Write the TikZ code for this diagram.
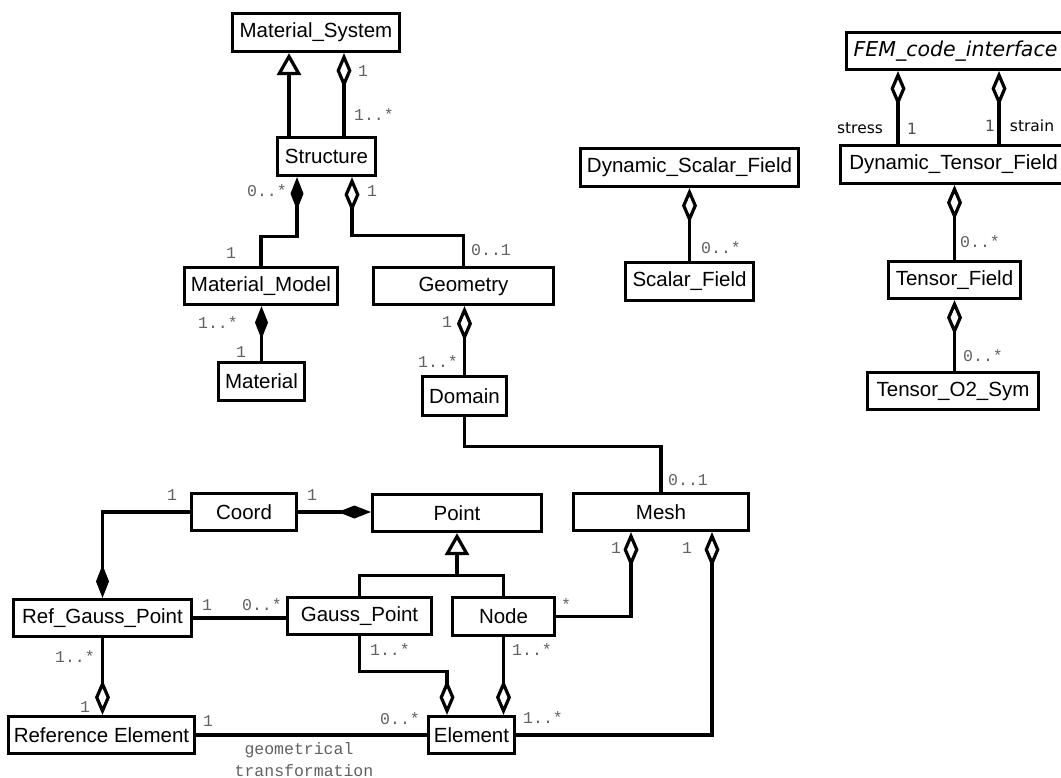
\documentclass[tikz,border=0pt]{standalone}
\usepackage{fontspec}
\setmainfont{Liberation Sans}
\newfontfamily\monofont{Liberation Mono}
\newfontfamily\djv{DejaVu Sans}
\usetikzlibrary{arrows.meta,calc}
\begin{document}
\begin{tikzpicture}[x=1pt,y=-1pt,
  cls/.style={draw, line width=3.2pt, inner sep=0pt, font=\fontsize{20.5}{24}\selectfont},
  mult/.style={inner sep=0pt, text=black!62, font=\monofont\fontsize{16.5}{19}\selectfont},
  role/.style={inner sep=0pt, font=\djv\fontsize{15.5}{18}\selectfont},
  conn/.style={line width=3.2pt},
  agg/.style={conn, -{Diamond[open,length=35pt,width=15pt]}},
  comp/.style={conn, -{Diamond[length=33pt,width=13pt]}},
  gen/.style={conn, -{Triangle[open,length=22pt,width=24pt]}},
]
\fill[white] (0,0) rectangle (1061,778);
\useasboundingbox (0,0) rectangle (1061,778);

% classes
\node[cls, minimum width=167pt, minimum height=38pt] (MS) at (316,32.5) {Material\_System};
\node[cls, minimum width=98pt, minimum height=38pt] (S) at (326.5,156.5) {Structure};
\node[cls, minimum width=153pt, minimum height=37pt] (MM) at (261,286) {Material\_Model};
\node[cls, minimum width=180pt, minimum height=37pt] (Geo) at (463.5,286) {Geometry};
\node[cls, minimum width=86pt, minimum height=38pt] (Mat) at (261.5,381.5) {Material};
\node[cls, minimum width=84pt, minimum height=39pt] (Dom) at (464.5,396) {Domain};
\node[cls, minimum width=175pt, minimum height=37pt] (Mesh) at (661,512) {Mesh};
\node[cls, minimum width=169pt, minimum height=37pt] (Point) at (457,513) {Point};
\node[cls, minimum width=105pt, minimum height=37pt] (Coord) at (244,512) {Coord};
\node[cls, minimum width=178pt, minimum height=37pt] (RGP) at (102.5,618) {Ref\_Gauss\_Point};
\node[cls, minimum width=144pt, minimum height=37pt] (GP) at (359.5,616) {Gauss\_Point};
\node[cls, minimum width=102pt, minimum height=38pt] (Node) at (503.5,616.5) {Node};
\node[cls, minimum width=186pt, minimum height=37pt] (RE) at (101.5,735) {Reference Element};
\node[cls, minimum width=86pt, minimum height=37pt] (El) at (471.5,735) {Element};
\node[cls, minimum width=218pt, minimum height=38pt] (DSF) at (689.5,167.5) {Dynamic\_Scalar\_Field};
\node[cls, minimum width=128pt, minimum height=38pt] (SF) at (689.5,281.5) {Scalar\_Field};
\node[cls, minimum width=218pt, minimum height=37pt, font=\djv\itshape\fontsize{20.5}{24}\selectfont] (FEM) at (955.5,51) {FEM\_code\_interface};
\node[cls, minimum width=226pt, minimum height=38pt] (DTF) at (953.5,164.5) {Dynamic\_Tensor\_Field};
\node[cls, minimum width=132pt, minimum height=37pt] (TF) at (954.5,280) {Tensor\_Field};
\node[cls, minimum width=171pt, minimum height=37pt] (TO2) at (953,391) {Tensor\_O2\_Sym};

% helper x positions
\coordinate (x1) at (289,0);
\coordinate (x2) at (344,0);
\coordinate (x3) at (297,0);
\coordinate (x4) at (352,0);
\coordinate (x5) at (447,0);
\coordinate (x6) at (631,0);
\coordinate (x7) at (712,0);
\coordinate (x8) at (898,0);
\coordinate (x9) at (999,0);

% connectors
\draw[gen] (S.north -| x1) -- (MS.south -| x1);
\draw[agg] (S.north -| x2) -- (MS.south -| x2);
\draw[comp] (MM.north) -- ++(0,-29) -| (S.south -| x3);
\draw[agg] (Geo.north) -- ++(0,-30) -| (S.south -| x4);
\draw[comp] (Mat.north) -- (Mat.north |- MM.south);
\draw[agg] (Dom.north) -- (Dom.north |- Geo.south);
\draw[conn] (Dom.south) -- ++(0,29) -| (Mesh.north);
\draw[comp] (Coord.east) -- (Coord.east -| Point.west);
\draw[comp] (Coord.west) -| (RGP.north);
\coordinate (pj) at ($(Point.south)+(0,42)$);
\draw[conn] (GP.north) |- (pj) -| (Node.north);
\draw[gen] (pj) -- (Point.south);
\draw[conn] (RGP.east) -- (RGP.east -| GP.west);
\draw[agg] (RGP.south) -- (RGP.south |- RE.north);
\draw[conn] (RE.east) -- (RE.east -| El.west);
\draw[agg] (GP.south) -- ++(0,35) -| (El.north -| x5);
\draw[agg] (Node.south) -- (Node.south |- El.north);
\draw[agg] (Node.east) -| (Mesh.south -| x6);
\draw[agg] (El.east) -| (Mesh.south -| x7);
\draw[agg] (SF.north) -- (SF.north |- DSF.south);
\draw[agg] (DTF.north -| x8) -- (FEM.south -| x8);
\draw[agg] (DTF.north -| x9) -- (FEM.south -| x9);
\draw[agg] (TF.north) -- (TF.north |- DTF.south);
\draw[agg] (TO2.north -| TF.south) -- (TF.south);

% multiplicities
\node[mult] (l1) at (363,71) {1};
\node[mult] (l2) at (374,115) {1..*};
\node[mult] (l3) at (267,191) {0..*};
\node[mult] (l4) at (372,191) {1};
\node[mult] (l5) at (231,253) {1};
\node[mult] (l6) at (491,250) {0..1};
\node[mult] (l7) at (218,323) {1..*};
\node[mult] (l8) at (241,352) {1};
\node[mult] (l9) at (447,322) {1};
\node[mult] (l10) at (438,362) {1..*};
\node[mult] (l11) at (688,480) {0..1};
\node[mult] (l12) at (721,248) {0..*};
\node[mult] (l13) at (980,242) {0..*};
\node[mult] (l14) at (983,356) {0..*};
\node[mult] (l15) at (172,495) {1};
\node[mult] (l16) at (312,495) {1};
\node[mult] (l17) at (207,605) {1};
\node[mult] (l18) at (262,605) {0..*};
\node[mult] (l19) at (75,657) {1..*};
\node[mult] (l20) at (85,707) {1};
\node[mult] (l21) at (208,721) {1};
\node[mult] (l22) at (400,719) {0..*};
\node[mult] (l23) at (543,718) {1..*};
\node[mult] (l24) at (390,650) {1..*};
\node[mult] (l25) at (532,650) {1..*};
\node[mult] (l26) at (566,605) {*};
\node[mult] (l27) at (616,548) {1};
\node[mult] (l28) at (687,548) {1};
\node[mult] (l29) at (299,750) {geometrical};
\node[mult] (l30) at (304,771) {transformation};

% roles
\node[role] (r1) at (860,128) {stress};
\node[role, text=black!70] (r2) at (912,129) {1};
\node[role, text=black!70] (r3) at (990,126) {1};
\node[role] (r4) at (1032,126) {strain};
\end{tikzpicture}
\end{document}
